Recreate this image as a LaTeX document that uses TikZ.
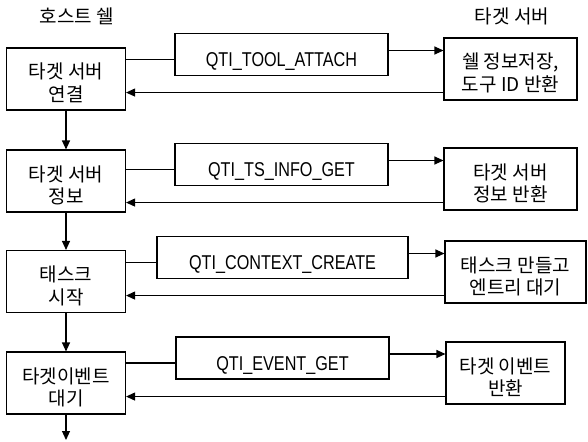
\documentclass[tikz,border=0pt]{standalone}
\usepackage{fontspec}
\setmainfont{Noto Sans CJK KR}
\newfontfamily\callfont[FakeStretch=0.81]{Liberation Sans}
\usetikzlibrary{arrows.meta}

\begin{document}
\begin{tikzpicture}[x=1pt,y=-1pt]
    \useasboundingbox (0,0) rectangle (588,441);
    \begin{scope}[all/.style={draw, line width=1.1pt, inner sep=0pt, text depth=0pt},
                  two/.style={all, align=center, minimum height=62pt, text height=45pt, font=\fontsize{19}{22.5}\selectfont},
                  host/.style={two, minimum width=119pt},
                  call/.style={all, minimum height=42pt, text height=24pt, font=\fontsize{20}{22}\callfont},
                  line width=1.1pt, >={Triangle[length=9pt,width=8pt]}]
        \node[font=\fontsize{19}{22}\selectfont] (th) at (77, 16) {호스트 쉘};
        \node[font=\fontsize{19}{22}\selectfont] (tt) at (512, 16) {타겟 서버};
        \node[host] (h1) at (66, 79) {타겟 서버\\연결};
        \node[host] (h2) at (66, 181) {타겟 서버\\정보};
        \node[host] (h3) at (66, 281.5) {태스크\\시작};
        \node[host] (h4) at (66, 383) {타겟이벤트\\대기};
        \node[call, minimum width=213pt] (c1) at (281.5, 54.5) {QTI\_TOOL\_ATTACH};
        \node[call, minimum width=213pt] (c2) at (281.5, 164.5) {QTI\_TS\_INFO\_GET};
        \node[call, minimum width=251pt] (c3) at (282.5, 257.5) {QTI\_CONTEXT\_CREATE};
        \node[call, minimum width=213pt] (c4) at (282.5, 358) {QTI\_EVENT\_GET};
        \node[two, minimum width=133pt] (t1) at (510.5, 69) {쉘 정보저장,\\도구 ID 반환};
        \node[two, minimum width=133pt] (t2) at (510.5, 179) {타겟 서버\\정보 반환};
        \node[two, minimum width=141pt] (t3) at (515.5, 272) {태스크 만들고\\엔트리 대기};
        \node[two, minimum width=119pt] (t4) at (505.5, 373) {타겟 이벤트\\반환};
        \coordinate (end) at (66, 440);
        \draw[->] (h1) -- (h2);
        \draw[->] (h2) -- (h3);
        \draw[->] (h3) -- (h4);
        \draw[->] (h4) -- (end);
        \foreach \i in {1,...,4} {
            \draw ([yshift=-5pt]c\i.west) -- ([yshift=-5pt]c\i.west -| h\i.east);
            \draw[->] ([yshift=4pt]c\i.east) -- ([yshift=4pt]c\i.east -| t\i.west);
            \draw[->] ([yshift=8pt]t\i.south west) -- ([yshift=8pt]t\i.south west -| h\i.east);
        }
    \end{scope}
\end{tikzpicture}
\end{document}
